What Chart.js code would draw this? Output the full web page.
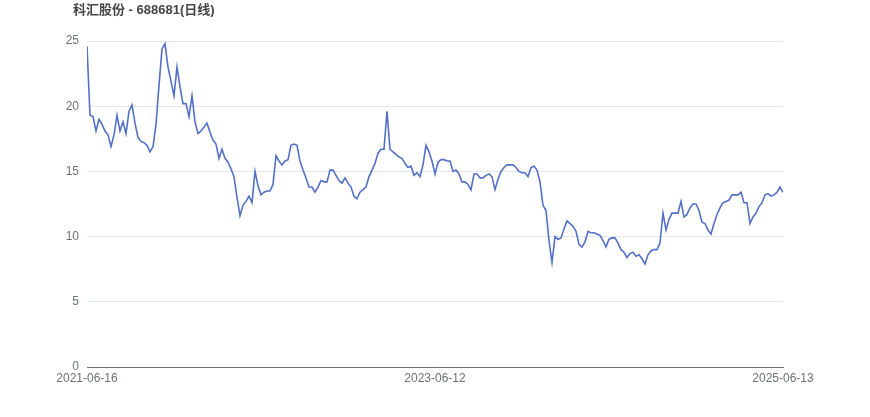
<!DOCTYPE html>
<html>
<head>
<meta charset="utf-8">
<script src="https://cdn.jsdelivr.net/npm/chart.js@4/dist/chart.umd.min.js"></script>
<style>
  html, body { margin: 0; padding: 0; background: #fff; }
  #wrap { position: relative; width: 870px; height: 417px; }
  #title {
    position: absolute; left: 73px; top: 1px;
    font: bold 13px "Liberation Sans", "Noto Sans CJK SC", sans-serif;
    color: #464646; line-height: 18px;
  }
</style>
</head>
<body>
<div id="wrap">
  <div id="title">科汇股份 - 688681(日线)</div>
  <canvas id="myChart" width="870" height="417"></canvas>
</div>
<script>
(() => {
  "use strict";

  // tick labels for first, middle and last session
  const tickLabels = ["2021-06-16", "2023-06-12", "2025-06-13"];
  const yTicks = [0, 5, 10, 15, 20, 25];

  // close prices, sampled along the period
  const closes = [
    24.6, 19.3, 19.2, 18.1, 19.0, 18.6, 18.1, 17.8, 16.9, 17.8,
    19.3, 18.1, 18.8, 17.9, 19.6, 20.1, 18.7, 17.6, 17.3, 17.2,
    17.0, 16.5, 16.9, 18.6, 21.6, 24.4, 24.8, 23.0, 21.9, 20.8,
    23.0, 21.5, 20.2, 20.2, 19.2, 20.8, 18.8, 17.9, 18.1, 18.4,
    18.7, 18.0, 17.4, 17.1, 16.0, 16.7, 16.0, 15.7, 15.2, 14.6,
    13.0, 11.6, 12.4, 12.7, 13.1, 12.6, 15.0, 13.9, 13.2, 13.4,
    13.5, 13.5, 14.0, 16.2, 15.8, 15.5, 15.8, 15.9, 17.0, 17.1,
    17.0, 15.8, 15.1, 14.5, 13.8, 13.8, 13.4, 13.8, 14.3, 14.2,
    14.2, 15.1, 15.1, 14.7, 14.3, 14.1, 14.5, 14.1, 13.8, 13.1,
    12.9, 13.4, 13.6, 13.8, 14.6, 15.1, 15.6, 16.4, 16.7, 16.7,
    19.6, 16.7, 16.5, 16.3, 16.1, 16.0, 15.6, 15.3, 15.4, 14.7,
    14.9, 14.6, 15.5, 17.0, 16.5, 15.8, 14.8, 15.7, 15.9, 15.9,
    15.8, 15.8, 15.0, 15.1, 14.8, 14.2, 14.2, 14.0, 13.6, 14.8,
    14.8, 14.5, 14.5, 14.7, 14.8, 14.6, 13.6, 14.4, 15.0, 15.3,
    15.5, 15.5, 15.5, 15.3, 15.0, 14.9, 14.9, 14.6, 15.3, 15.4,
    15.1, 14.2, 12.4, 12.0, 9.7, 8.0, 10.0, 9.8, 9.9, 10.6,
    11.2, 11.0, 10.8, 10.4, 9.4, 9.2, 9.6, 10.4, 10.3, 10.3,
    10.2, 10.1, 9.7, 9.2, 9.8, 9.9, 9.9, 9.5, 9.0, 8.8,
    8.4, 8.7, 8.8, 8.5, 8.6, 8.3, 7.9, 8.6, 8.9, 9.0,
    9.0, 9.5, 11.8, 10.5, 11.3, 11.8, 11.8, 11.8, 12.7, 11.5,
    11.7, 12.2, 12.5, 12.5, 12.0, 11.1, 11.0, 10.5, 10.2, 11.0,
    11.7, 12.2, 12.6, 12.7, 12.8, 13.2, 13.2, 13.2, 13.4, 12.6,
    12.6, 11.0, 11.5, 11.8, 12.3, 12.6, 13.2, 13.3, 13.1, 13.2,
    13.4, 13.8, 13.4,
  ];

  const last = closes.length - 1;
  const tickIdx = [0, Math.round(last / 2), last];
  const points = closes.map((v, i) => ({ x: i, y: v }));

  const font = { family: "'Liberation Sans', 'Noto Sans CJK SC', sans-serif", size: 12 };

  const ctx = document.getElementById("myChart");
  // eslint-disable-next-line no-unused-vars
  const myChart = new Chart(ctx, {
    type: "line",
    data: {
      datasets: [
        {
          data: points,
          borderColor: "#5470c6",
          borderWidth: 1.6,
          pointRadius: 0,
          tension: 0,
          fill: false,
        },
      ],
    },
    options: {
      responsive: false,
      animation: false,
      layout: { padding: { left: 0, right: 87, top: 41, bottom: 0 } },
      plugins: {
        legend: { display: false },
        tooltip: { enabled: false },
      },
      scales: {
        x: {
          type: "linear",
          min: 0,
          max: last,
          afterBuildTicks: (scale) => {
            scale.ticks = tickIdx.map((v) => ({ value: v }));
          },
          afterFit: (scale) => { scale.height = 50; },
          ticks: {
            autoSkip: false,
            maxRotation: 0,
            color: "#6e7079",
            font: font,
            padding: 4,
            callback: (v) => tickLabels[tickIdx.indexOf(v)],
          },
          grid: { display: false, drawTicks: false },
          border: { display: true, color: "#6e7079", width: 1 },
        },
        y: {
          min: 0,
          max: 25,
          afterBuildTicks: (scale) => {
            scale.ticks = yTicks.map((v) => ({ value: v }));
          },
          afterFit: (scale) => { scale.width = 87; },
          ticks: { color: "#6e7079", font: font, padding: 8 },
          grid: { color: "#e0e6f1", drawTicks: false },
          border: { display: false },
        },
      },
    },
  });
})();
</script>
</body>
</html>
